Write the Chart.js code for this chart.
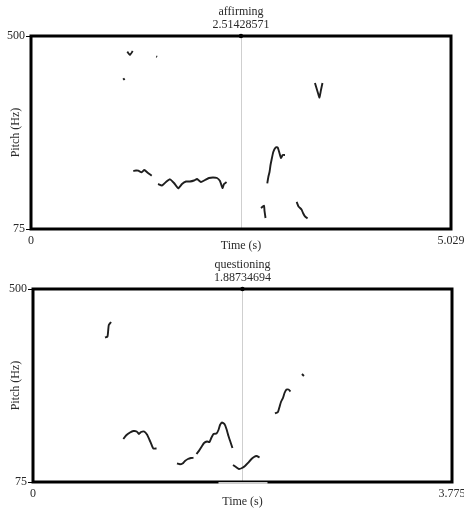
<!DOCTYPE html>
<html>
<head>
<meta charset="utf-8">
<script src="https://cdn.jsdelivr.net/npm/chart.js@4/dist/chart.umd.min.js"></script>
<style>
  body { margin:0; background:#fff; }
  #wrap { position:relative; width:464px; height:510px; }
  canvas { position:absolute; left:0; }
</style>
</head>
<body>
<div id="wrap">
  <canvas id="c1" width="464" height="253" style="top:0"></canvas>
  <canvas id="c2" width="464" height="257" style="top:253px"></canvas>
</div>
<script>
// pitch contours, one inner array per voiced stretch
let affTime=[
  [1.105,1.120],
  [1.153,1.185,1.218],
  [1.500,1.510],
  [1.225,1.257,1.285,1.325,1.357,1.397,1.445],
  [1.521,1.568,1.616,1.664,1.712,1.764,1.808,1.856,1.904,1.952,1.988,2.035,2.083,2.131,2.179,2.227,2.263,2.293,2.311,2.341],
  [2.754,2.790,2.796,2.808],
  [2.829,2.844,2.856,2.868,2.880,2.901,2.930,2.954,2.975,2.993,3.014,3.041],
  [3.181,3.203,3.239,3.257,3.281,3.311],
  [3.400,3.418,3.436,3.454,3.472,3.490]
]
let affPitch=[
  [406.9,403.1],
  [465.4,458.2,467.0],
  [455,454],
  [202.7,203.8,203.4,199.9,205.0,199.0,192.4],
  [174.1,170.8,178.5,184.4,176.3,164.6,174.1,179.6,179.6,181.8,185.1,178.5,182.9,187.3,188.4,187.3,180.7,165.3,174.1,178.5],
  [121.3,126.3,114.7,99.2],
  [175.6,191.7,200.5,215.9,226.9,244.6,254.9,254.5,242.4,231.4,238.0,238.0],
  [134.5,124.6,118.0,110.3,102.6,98.1],
  [396.5,385.5,374.5,364.6,381.1,396.5]
]
let qTime=[
  [0.649,0.671,0.677,0.683,0.703],
  [0.814,0.838,0.874,0.904,0.934,0.955,0.973,1.003,1.027,1.050,1.069,1.084,1.113],
  [1.297,1.324,1.347,1.369,1.396,1.423,1.446],
  [1.473,1.495,1.523,1.541,1.568,1.590,1.608,1.626,1.653,1.671,1.685,1.703,1.725,1.743,1.761,1.779,1.797],
  [1.802,1.829,1.856,1.883,1.910,1.937,1.964,1.991,2.014,2.041],
  [2.180,2.207,2.221,2.234,2.252,2.266,2.284,2.302,2.320],
  [2.423,2.441]
]
let qPitch=[
  [393.2,395.4,407.5,420.7,427.3],
  [169.7,177.4,184.0,187.3,186.2,180.7,185.1,186.2,179.6,167.5,156.5,148.8,148.8],
  [115.7,114.2,115.7,121.3,125.7,127.9,128.3],
  [136.7,143.6,154.3,160.9,164.2,163.1,173.0,180.7,181.8,189.5,200.5,206.0,202.7,191.7,176.3,163.1,149.9],
  [112.5,108.0,103.6,105.8,110.2,116.9,124.6,130.1,132.3,129.0],
  [225.9,229.2,240.2,251.2,260.0,271.0,278.7,278.7,274.3],
  [312.8,308.4]
]
let pitchRange=[75,500]
let affDuration=5.029
let qDuration=3.775
let affCursor=2.51428571
let qCursor=1.88734694

const serif='"Liberation Serif", "Times New Roman", serif'
const textCol='#2a2a2a'

const boxPlugin={
  id:'box',
  beforeDatasetsDraw(chart,args,opts){
    const {ctx,chartArea:a,scales}=chart
    const x=scales.x.getPixelForValue(opts.cursor)
    ctx.save()
    ctx.strokeStyle='#cfcfcf'
    ctx.lineWidth=1
    ctx.beginPath()
    ctx.moveTo(Math.round(x)+0.5,a.top)
    ctx.lineTo(Math.round(x)+0.5,a.bottom)
    ctx.stroke()
    ctx.restore()
  },
  afterDatasetsDraw(chart,args,opts){
    const {ctx,chartArea:a,scales}=chart
    const x=scales.x.getPixelForValue(opts.cursor)
    ctx.save()
    ctx.strokeStyle='#000'
    ctx.lineWidth=3
    ctx.strokeRect(a.left,a.top,a.right-a.left,a.bottom-a.top)
    // the thin stretch of the lower frame under the axis title
    if(opts.gap)
    {
      ctx.fillStyle='#fff'
      ctx.fillRect(x-opts.gap[0],a.bottom+0.2,opts.gap[0]+opts.gap[1],1.4)
    }
    ctx.fillStyle='#000'
    ctx.beginPath()
    ctx.arc(x,a.top,2.2,0,Math.PI*2)
    ctx.fill()
    ctx.restore()
  }
}

function makeChart(id,name,times,pitches,duration,cursor,leftW,rightPad,axisH,titlePadB,gap)
{
  let datasets=[]
  for(let i=0;i<times.length;i++)
  {
    datasets.push({
      data:times[i].map((t,j)=>({x:t,y:pitches[i][j]})),
      borderColor:'#1e1e1e',
      borderWidth:1.9,
      pointRadius:0,
      tension:0.15,
      fill:false
    })
  }
  new Chart(document.getElementById(id),{
    type:'line',
    data:{datasets:datasets},
    plugins:[boxPlugin],
    options:{
      responsive:false,
      animation:false,
      layout:{padding:{left:0,right:rightPad,top:0,bottom:0}},
      plugins:{
        legend:{display:false},
        tooltip:{enabled:false},
        box:{cursor:cursor,gap:gap},
        title:{
          display:true,
          fullSize:false,
          text:[name,String(cursor)],
          color:textCol,
          font:{family:serif,size:12,weight:'normal',lineHeight:1.1},
          padding:{top:5,bottom:4.6}
        }
      },
      scales:{
        x:{
          type:'linear',
          min:0,max:duration,
          grid:{display:false,drawTicks:false},
          border:{display:false},
          afterBuildTicks:(s)=>{s.ticks=[{value:0},{value:duration}]},
          afterFit:(s)=>{s.height=axisH;s.paddingLeft=0;s.paddingRight=0},
          ticks:{
            maxRotation:0,autoSkip:false,padding:5,color:textCol,
            font:{family:serif,size:12},
            callback:(v)=>String(v)
          },
          title:{display:true,text:'Time (s)',color:textCol,font:{family:serif,size:12},padding:{top:0,bottom:titlePadB}}
        },
        y:{
          type:'linear',
          min:pitchRange[0],max:pitchRange[1],
          grid:{display:true,drawOnChartArea:false,drawTicks:true,tickLength:5,color:'#000'},
          border:{display:false},
          afterBuildTicks:(s)=>{s.ticks=[{value:pitchRange[0]},{value:pitchRange[1]}]},
          afterFit:(s)=>{s.width=leftW;s.paddingTop=0;s.paddingBottom=0},
          ticks:{
            padding:1,color:textCol,autoSkip:false,
            font:{family:serif,size:12},
            callback:(v)=>String(v)
          },
          title:{display:true,text:'Pitch (Hz)',color:textCol,font:{family:serif,size:12},padding:{top:9,bottom:0}}
        }
      }
    }
  })
}

makeChart('c1','affirming',affTime,affPitch,affDuration,affCursor,31,13,24,0,null)
makeChart('c2','questioning',qTime,qPitch,qDuration,qCursor,33,12,28,1,[24,25])
</script>
</body>
</html>
